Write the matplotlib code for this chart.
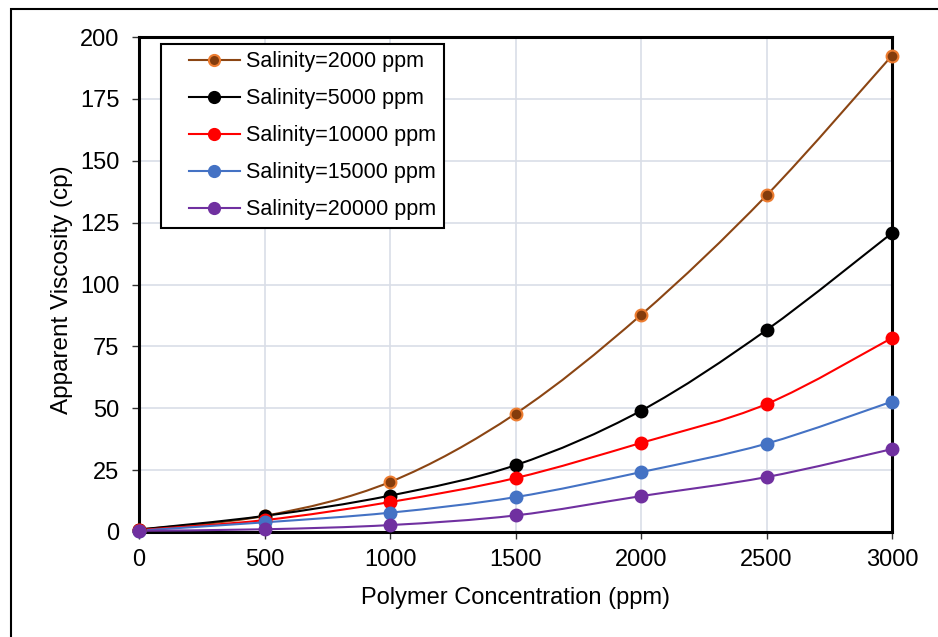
import numpy as np
import matplotlib
matplotlib.use("Agg")
import matplotlib.pyplot as plt
from matplotlib.path import Path
from matplotlib.patches import PathPatch, Rectangle
from matplotlib.lines import Line2D
from matplotlib.legend_handler import HandlerLine2D

plt.rcParams["font.family"] = ["Liberation Sans", "DejaVu Sans"]

# Data
conc = [0, 500, 1000, 1500, 2000, 2500, 3000]
visc_2000 = [1.0, 6.5, 20.2, 47.8, 87.7, 136.0, 192.5]
visc_5000 = [1.0, 6.5, 14.7, 27.0, 49.0, 81.6, 120.8]
visc_10000 = [0.8, 4.8, 12.1, 21.8, 36.0, 51.7, 78.4]
visc_15000 = [0.6, 3.9, 7.8, 14.1, 24.2, 35.7, 52.7]
visc_20000 = [0.5, 1.1, 2.8, 6.7, 14.5, 22.2, 33.5]
labels = ["Salinity=2000 ppm", "Salinity=5000 ppm", "Salinity=10000 ppm",
          "Salinity=15000 ppm", "Salinity=20000 ppm"]

series = [visc_2000, visc_5000, visc_10000, visc_15000, visc_20000]
line_colors = ["#8B4513", "#000000", "#FF0000", "#4472C4", "#7030A0"]
face_colors = ["#843C0C", "#000000", "#FF0000", "#4472C4", "#7030A0"]
edge_colors = ["#ED7D31", "#000000", "#FF0000", "#4472C4", "#7030A0"]


def smooth_path(x, y):
  # Excel-style smoothed line: cubic bezier segments through the points
  pts = np.column_stack([x, y]).astype(float)
  n = len(pts)
  verts = [pts[0]]
  codes = [Path.MOVETO]
  for i in range(n - 1):
    p0 = pts[i - 1] if i > 0 else pts[i]
    p1 = pts[i]
    p2 = pts[i + 1]
    p3 = pts[i + 2] if i + 2 < n else pts[i + 1]
    c1 = p1 + (p2 - p0) / 6.0
    c2 = p2 - (p3 - p1) / 6.0
    verts += [c1, c2, p2]
    codes += [Path.CURVE4] * 3
  return Path(verts, codes)


class PaddedLineHandler(HandlerLine2D):
  # leave some blank space left of the legend line, like Excel does
  def get_xdata(self, legend, xdescent, ydescent, width, height, fontsize):
    lead = 0.95 * fontsize
    xdata = [-xdescent + lead, -xdescent + width]
    xmark = [-xdescent + lead + 0.5 * (width - lead)]
    return xdata, xmark


fig = plt.figure(figsize=(9.38, 6.37), dpi=100)
ax = fig.add_axes([139 / 938, 1 - 532 / 637, (892 - 139) / 938, (532 - 37) / 637])

handles = []
for y, lc, fc, ec, lab in zip(series, line_colors, face_colors, edge_colors, labels):
  patch = PathPatch(smooth_path(conc, y), facecolor="none", edgecolor=lc, lw=1.5, zorder=3)
  ax.add_patch(patch)
  ax.plot(conc, y, ls="none", marker="o", ms=8.5, mfc=fc, mec=ec, mew=1.5, zorder=4,
          clip_on=False)
  handles.append(Line2D([], [], color=lc, lw=1.5, marker="o", ms=8, mfc=fc, mec=ec,
                        mew=1.5, label=lab))

ax.set_xlim(0, 3000)
ax.set_ylim(0, 200)
ax.set_xticks(range(0, 3001, 500))
ax.set_yticks(range(0, 201, 25))
ax.grid(True, color="#D9DEE7", lw=1.2)
ax.set_axisbelow(True)
for s in ax.spines.values():
  s.set_linewidth(2.2)
  s.set_color("black")
ax.tick_params(axis="both", labelsize=17, direction="out", length=5, width=1,
               color="#333333")
ax.tick_params(axis="x", pad=7)
ax.tick_params(axis="y", pad=9)
ax.set_xlabel("Polymer Concentration (ppm)", fontsize=17)
ax.set_ylabel("Apparent Viscosity (cp)", fontsize=17.5)
ax.xaxis.set_label_coords(0.5, -0.112)
ax.yaxis.set_label_coords(-0.088, 0.489)

leg = ax.legend(handles=handles, loc="upper left", bbox_to_anchor=(0.0292, 0.986),
                borderaxespad=0, fontsize=15.5, frameon=True, fancybox=False,
                framealpha=1, edgecolor="black", handlelength=3.3,
                labelspacing=0.74, borderpad=0.35, handletextpad=0.3,
                handler_map={Line2D: PaddedLineHandler(numpoints=1)})
leg.get_frame().set_linewidth(1.5)

# outer chart border
fig.patches.append(Rectangle((11 / 938, -0.05), 1.1, 1.05 - 9 / 637, transform=fig.transFigure,
                             fill=False, edgecolor="black", lw=1.5, zorder=0))

fig.savefig("out.png", dpi=100)
